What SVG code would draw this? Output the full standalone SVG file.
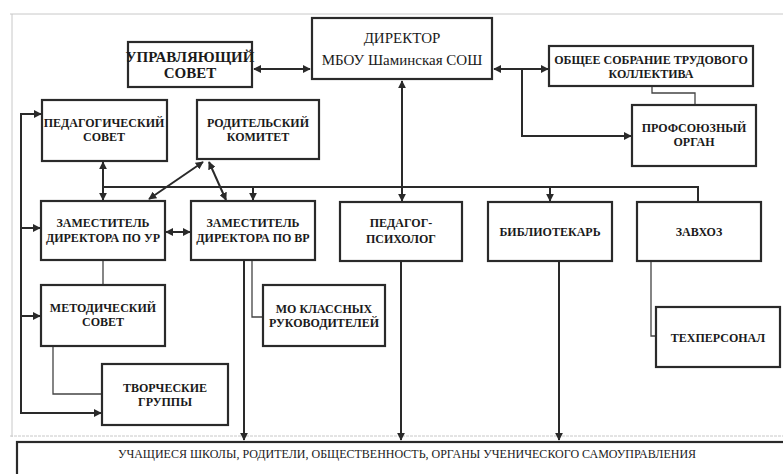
<svg xmlns="http://www.w3.org/2000/svg" width="783" height="474" viewBox="0 0 783 474">
<style>
.box{fill:#fff;stroke:#2a2a2a;stroke-width:2.2}
.t{font-family:"Liberation Serif","DejaVu Serif","Times New Roman",serif;font-weight:bold;font-size:12px;fill:#1a1a1a;text-anchor:middle}
.big{font-size:15px}
.reg{font-weight:normal}
.c{fill:none;stroke:#2a2a2a;stroke-width:2}
.thin{fill:none;stroke:#444;stroke-width:1.3}
.page{fill:none;stroke:#c8c8c8;stroke-width:1}
</style>
<defs>
<marker id="ah" viewBox="0 0 10 10" refX="9" refY="5" markerWidth="4" markerHeight="4" orient="auto-start-reverse" markerUnits="strokeWidth">
<path d="M0,0 L10,5 L0,10 z" fill="#2a2a2a"/>
</marker>
</defs>
<rect width="783" height="474" fill="#fff"/>
<g id="page">
<path class="page" d="M10,14 H783 M12,14 V437"/>
<path class="page" d="M10,436 H783" stroke-dasharray="3,1"/>
</g>
<g id="connectors">
<path class="c" d="M254,69 H310" marker-start="url(#ah)" marker-end="url(#ah)"/>
<path class="c" d="M494,69 H548" marker-start="url(#ah)" marker-end="url(#ah)"/>
<path class="c" d="M522,69 V136 H631" marker-end="url(#ah)"/>
<path class="thin" d="M652,86 V93 H695 V105"/>
<path class="c" d="M402,81 V201" marker-start="url(#ah)" marker-end="url(#ah)"/>
<path class="c" d="M103,187 H698 V201"/>
<path class="c" d="M103,162 V200" marker-start="url(#ah)" marker-end="url(#ah)"/>
<path class="c" d="M253,187 V200" marker-end="url(#ah)"/>
<path class="c" d="M550,187 V201" marker-end="url(#ah)"/>
<path class="c" d="M203,162 L149,199" marker-start="url(#ah)" marker-end="url(#ah)"/>
<path class="c" d="M209,162 L226,200" marker-start="url(#ah)" marker-end="url(#ah)"/>
<path class="c" d="M166,232 H190" marker-start="url(#ah)" marker-end="url(#ah)"/>
<path class="c" d="M41,114 H21 V413 H101" marker-start="url(#ah)" marker-end="url(#ah)"/>
<path class="c" d="M21,228 H40" marker-end="url(#ah)"/>
<path class="c" d="M21,316 H40" marker-end="url(#ah)"/>
<path class="thin" d="M103,261 V285"/>
<path class="thin" d="M53,347 V394 H102"/>
<path class="thin" d="M252,261 V317 H263"/>
<path class="c" d="M244,261 V440" marker-end="url(#ah)"/>
<path class="c" d="M401,262 V440" marker-end="url(#ah)"/>
<path class="c" d="M559,262 V440" marker-end="url(#ah)"/>
<path class="thin" d="M651,262 V336 H656"/>
</g>
<g id="n-upr"><rect class="box" x="128" y="42" width="124" height="45"/><text class="t big" x="190" y="62">УПРАВЛЯЮЩИЙ</text><text class="t big" x="190" y="78">СОВЕТ</text></g>
<g id="n-dir"><rect class="box" x="312" y="18" width="180" height="61"/><text class="t big reg" x="402" y="43">ДИРЕКТОР</text><text class="t big reg" x="402" y="65">МБОУ Шаминская СОШ</text></g>
<g id="n-obsh"><rect class="box" x="549" y="46" width="204" height="40"/><text class="t" x="651" y="64">ОБЩЕЕ СОБРАНИЕ ТРУДОВОГО</text><text class="t" x="651" y="78">КОЛЛЕКТИВА</text></g>
<g id="n-prof"><rect class="box" x="632" y="105" width="124" height="61"/><text class="t" x="694" y="132">ПРОФСОЮЗНЫЙ</text><text class="t" x="694" y="146">ОРГАН</text></g>
<g id="n-ped"><rect class="box" x="42" y="100" width="125" height="61"/><text class="t" x="104" y="127">ПЕДАГОГИЧЕСКИЙ</text><text class="t" x="104" y="141">СОВЕТ</text></g>
<g id="n-rod"><rect class="box" x="197" y="100" width="122" height="59"/><text class="t" x="258" y="127">РОДИТЕЛЬСКИЙ</text><text class="t" x="258" y="141">КОМИТЕТ</text></g>
<g id="n-zur"><rect class="box" x="41" y="201" width="124" height="59"/><text class="t" x="103" y="227">ЗАМЕСТИТЕЛЬ</text><text class="t" x="103" y="242">ДИРЕКТОРА ПО УР</text></g>
<g id="n-zvr"><rect class="box" x="191" y="201" width="124" height="59"/><text class="t" x="253" y="227">ЗАМЕСТИТЕЛЬ</text><text class="t" x="253" y="242">ДИРЕКТОРА ПО ВР</text></g>
<g id="n-psy"><rect class="box" x="340" y="202" width="122" height="59"/><text class="t" x="401" y="227">ПЕДАГОГ-</text><text class="t" x="401" y="243">ПСИХОЛОГ</text></g>
<g id="n-lib"><rect class="box" x="488" y="202" width="124" height="59"/><text class="t" x="550" y="236">БИБЛИОТЕКАРЬ</text></g>
<g id="n-zav"><rect class="box" x="637" y="202" width="124" height="59"/><text class="t" x="699" y="236">ЗАВХОЗ</text></g>
<g id="n-met"><rect class="box" x="41" y="285" width="124" height="61"/><text class="t" x="103" y="312">МЕТОДИЧЕСКИЙ</text><text class="t" x="103" y="326">СОВЕТ</text></g>
<g id="n-mo"><rect class="box" x="263" y="285" width="122" height="61"/><text class="t" x="324" y="313">МО КЛАССНЫХ</text><text class="t" x="324" y="327">РУКОВОДИТЕЛЕЙ</text></g>
<g id="n-tvor"><rect class="box" x="102" y="364" width="126" height="61"/><text class="t" x="165" y="392">ТВОРЧЕСКИЕ</text><text class="t" x="165" y="406">ГРУППЫ</text></g>
<g id="n-tech"><rect class="box" x="656" y="307" width="124" height="60"/><text class="t" x="718" y="342">ТЕХПЕРСОНАЛ</text></g>
<g id="n-uch"><rect class="box" x="17" y="442" width="800" height="60"/><text class="t reg" x="407" y="458" font-size="11.5">УЧАЩИЕСЯ ШКОЛЫ, РОДИТЕЛИ, ОБЩЕСТВЕННОСТЬ, ОРГАНЫ УЧЕНИЧЕСКОГО САМОУПРАВЛЕНИЯ</text></g>
</svg>
